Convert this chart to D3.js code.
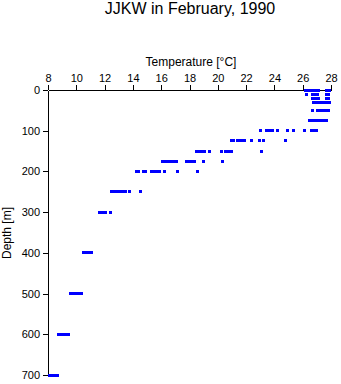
<!DOCTYPE html>
<html><head><meta charset="utf-8">
<script src="https://cdn.jsdelivr.net/npm/d3@7"></script>
<style>
html,body{margin:0;padding:0;background:#fff;}
svg{display:block;font-family:"Liberation Sans",Arial,Helvetica,sans-serif;}
</style></head>
<body>
<svg id="chart" width="341" height="384"></svg>
<script>
const title = "JJKW in February, 1990";
const xLabel = "Temperature [°C]";
const yLabel = "Depth [m]";
const xTicks = [8,10,12,14,16,18,20,22,24,26,28];
const yTicks = [0,100,200,300,400,500,600,700];

// depth levels [m] and the temperatures [°C] observed at each
const depths = [0,10,20,30,50,75,100,125,150,175,200,250,300,400,500,600,700];
const t0   = [26.2,26.35,26.55,26.75,26.95,27.15,27.7,27.9];
const t10  = [26.25,26.7,26.9,27.05,27.7,27.85];
const t20  = [26.7,26.9,27.1,27.7,27.85];
const t30  = [26.75,26.95,27.15,27.35,27.55,27.75,27.9];
const t50  = [26.7,27.05,27.25,27.45,27.65,27.8];
const t75  = [26.5,26.7,26.9,27.1,27.3,27.5,27.7];
const t100 = [23.05,23.45,23.65,23.85,24.2,24.95,25.35,26.1,26.6,26.8,27.0];
const t125 = [21.0,21.1,21.4,21.6,21.8,21.9,22.4,22.95,23.25,24.75];
const t150 = [18.5,18.7,18.9,19.05,19.4,20.25,20.55,20.75,20.95,23.1];
const t175 = [16.1,16.3,16.5,16.7,16.9,17.05,17.8,18.0,18.2,18.35,19.0,20.3];
const t200 = [14.25,14.4,14.75,14.9,15.3,15.5,15.7,15.9,16.25,17.15,18.55];
const t250 = [12.5,12.7,12.9,13.1,13.3,13.5,13.75,14.55];
const t300 = [11.65,11.85,12.05,12.45];
const t400 = [10.5,10.7,10.9,11.1];
const t500 = [9.6,9.8,10.0,10.2,10.4];
const t600 = [8.75,8.95,9.15,9.3,9.45];
const t700 = [8.1,8.3,8.5,8.7];
const tempsByDepth = [t0,t10,t20,t30,t50,t75,t100,t125,t150,t175,t200,t250,t300,t400,t500,t600,t700];

const points = [];
depths.forEach((d,i)=>tempsByDepth[i].forEach(t=>points.push({d,t})));

const svg = d3.select("#chart");
const x = d3.scaleLinear().domain([8,28]).range([48,331]);
const y = d3.scaleLinear().domain([0,700]).range([90,375]);

svg.append("text").attr("x",190).attr("y",14).attr("text-anchor","middle")
  .attr("font-size",16).attr("fill","#000").text(title);

svg.append("text").attr("x",191).attr("y",66).attr("text-anchor","middle")
  .attr("font-size",12).attr("fill","#000").text(xLabel);

svg.append("text").attr("transform","translate(11,233) rotate(-90)")
  .attr("text-anchor","middle").attr("font-size",12).attr("fill","#000").text(yLabel);

const xAxis = svg.append("g").attr("transform","translate(0,90)")
  .call(d3.axisTop(x).tickValues(xTicks).tickSize(5).tickSizeOuter(0).tickPadding(3));
const yAxis = svg.append("g").attr("transform","translate(48,0)")
  .call(d3.axisLeft(y).tickValues(yTicks).tickSize(5).tickSizeOuter(0).tickPadding(3));
[xAxis,yAxis].forEach(g=>{
  g.selectAll("text").attr("font-size",11).attr("font-family","'Liberation Sans',Arial,sans-serif").attr("fill","#000");
  g.selectAll("line,path").attr("stroke","#000").attr("shape-rendering","crispEdges");
});

svg.append("g").selectAll("rect").data(points).join("rect")
  .attr("x",p=>x(p.t)-1.5).attr("y",p=>y(p.d)-1.5)
  .attr("width",3).attr("height",3)
  .attr("fill","#0000ff").attr("shape-rendering","crispEdges");
</script>
</body></html>
